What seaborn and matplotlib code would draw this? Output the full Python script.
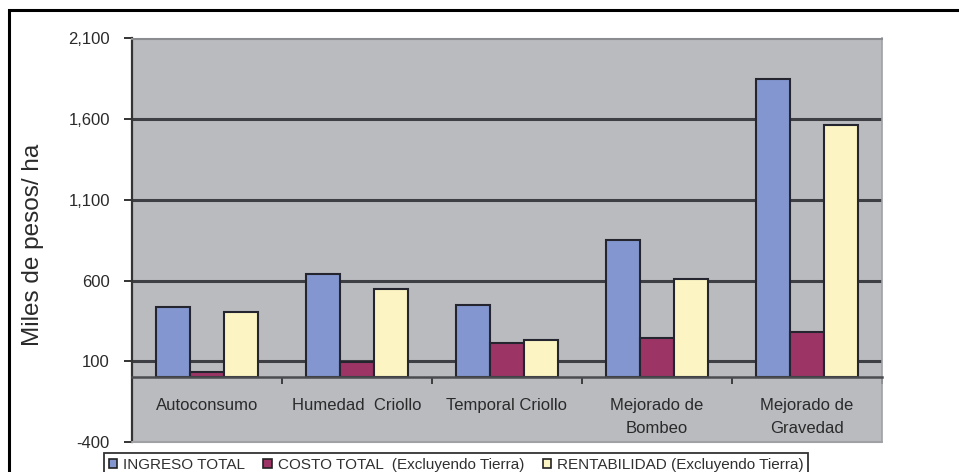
import numpy as np
import pandas as pd
import matplotlib
matplotlib.use("Agg")
import matplotlib.pyplot as plt
import seaborn as sns
from matplotlib.patches import Rectangle, Patch
from matplotlib.ticker import FuncFormatter

# Ingreso, costo y rentabilidad por sistema de producción (miles de pesos/ha)
categories = ["Autoconsumo", "Humedad  Criollo", "Temporal Criollo",
              "Mejorado de\nBombeo", "Mejorado de\nGravedad"]
series = ["INGRESO TOTAL", "COSTO TOTAL  (Excluyendo Tierra)",
          "RENTABILIDAD (Excluyendo Tierra)"]
ingreso = [437, 643, 449, 852, 1852]
costo = [33, 96, 215, 246, 281]
rentabilidad = [406, 546, 234, 607, 1567]
y_ticks = [-400, 100, 600, 1100, 1600, 2100]

colors = ["#8396D0", "#9C3566", "#FCF4C3"]

df = pd.DataFrame({
    "Sistema": categories * 3,
    "Concepto": [series[0]] * 5 + [series[1]] * 5 + [series[2]] * 5,
    "Valor": ingreso + costo + rentabilidad,
})

sns.set_style("white")
plt.rcParams["font.family"] = ["Liberation Sans", "DejaVu Sans"]

W, H = 959, 472
fig = plt.figure(figsize=(W / 100, H / 100), dpi=100)
fig.patch.set_facecolor("white")

left, right, top, bottom = 132, 882, 38.5, 442
ax = fig.add_axes([left / W, (H - bottom) / H, (right - left) / W, (bottom - top) / H])

sns.barplot(data=df, x="Sistema", y="Valor", hue="Concepto",
            order=categories, hue_order=series, palette=colors,
            width=0.675, saturation=1, edgecolor="#25252f", linewidth=1.5,
            errorbar=None, legend=False, ax=ax)

ax.set_facecolor("#B9BBBF")
ax.set_xlim(-0.5, 4.5)
ax.set_ylim(-400, 2100)
ax.set_xlabel("")
ax.set_ylabel("")

# horizontal gridlines (inner ones only)
for yv in y_ticks[1:-1]:
    ax.axhline(yv, color="#3d3f44", lw=2.2, zorder=0.5)

# y axis
ax.set_yticks(y_ticks)
ax.yaxis.set_major_formatter(FuncFormatter(lambda v, p: f"{v:,.0f}"))
ax.tick_params(axis="y", direction="out", length=6, width=1.4, color="#333333",
               labelsize=12, labelcolor="#2a2a2a", pad=10, left=True)

# category axis sits on the zero line
ax.spines["bottom"].set_position(("data", 0))
ax.spines["bottom"].set_color("#4a4c50")
ax.spines["bottom"].set_linewidth(1.8)
ax.spines["bottom"].set_zorder(3)
ax.set_xticks(range(len(categories)))
ax.set_xticklabels(categories)
ax.set_xticks(np.arange(-0.5, 4.6, 1.0), minor=True)
ax.tick_params(axis="x", which="major", length=0, pad=14.5, labelsize=12,
               labelcolor="#2a2a2a")
ax.tick_params(axis="x", which="minor", direction="out", length=5, width=1.3,
               color="#333333", bottom=True)
for lbl in ax.get_xticklabels():
    lbl.set_linespacing(1.7)
    lbl.set_verticalalignment("top")

ax.spines["left"].set_color("#333333")
ax.spines["left"].set_linewidth(1.6)
ax.spines["top"].set_color("#8a8c90")
ax.spines["top"].set_linewidth(1.5)
ax.spines["right"].set_color("#9fa1a4")
ax.spines["right"].set_linewidth(1.2)
ax.axhline(-400, color="#9fa1a4", lw=1.5, clip_on=False, zorder=3)

fig.text(33 / W, 1 - 245 / H, "Miles de pesos/ ha", rotation=90,
         ha="center", va="center", fontsize=17.5, color="#2a2a2a")

handles = [Patch(facecolor=c, edgecolor="#222222", linewidth=1.2) for c in colors]
leg = fig.legend(handles, series, loc="upper left",
                 bbox_to_anchor=(104 / W, 1 - 453 / H), ncol=3,
                 frameon=True, fancybox=False, edgecolor="black",
                 fontsize=11, handlelength=0.55, handleheight=0.55,
                 handletextpad=0.4, columnspacing=1.2, borderpad=0.3,
                 borderaxespad=0)
leg.get_frame().set_linewidth(1.3)
for t in leg.get_texts():
    t.set_color("#303030")

# outer chart border
fig.patches.append(Rectangle((9 / W, -0.2), 1.2, (H - 10) / H + 0.2,
                             transform=fig.transFigure, fill=False,
                             edgecolor="black", linewidth=2.2))

fig.savefig("out.png", dpi=100)
